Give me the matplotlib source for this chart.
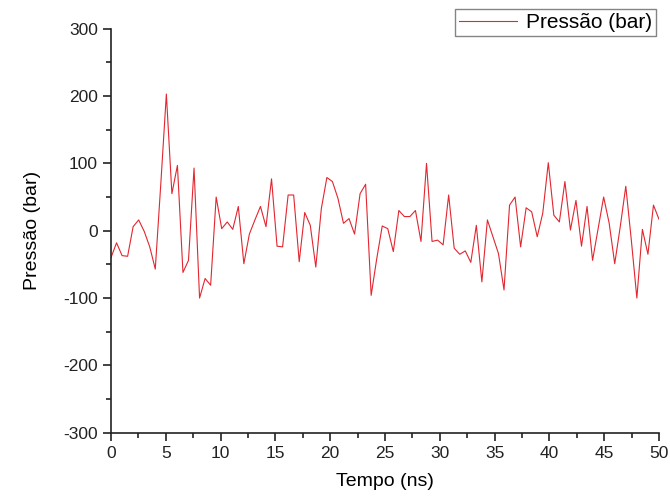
import matplotlib.pyplot as plt
import numpy as np
from matplotlib.ticker import MultipleLocator

plt.rcParams['font.family'] = ['Liberation Sans', 'DejaVu Sans']
plt.rcParams['axes.unicode_minus'] = False

# tempo (ns): 100 amostras de 0 a 50
tempo = np.linspace(0, 50, 100)
pressao = [-40, -18, -37, -38, 6, 16, -1, -24, -57, 70,
           203, 55, 97, -62, -44, 93, -100, -71, -81, 50,
           3, 13, 2, 36, -49, -5, 16, 36, 6, 77,
           -23, -24, 53, 53, -46, 27, 8, -54, 33, 79,
           73, 48, 11, 18, -5, 55, 69, -96, -42, 7,
           3, -31, 30, 21, 21, 30, -16, 100, -16, -14,
           -21, 53, -26, -35, -30, -47, 8, -76, 16, -9,
           -34, -88, 38, 50, -24, 34, 28, -9, 26, 101,
           23, 13, 73, 1, 45, -23, 36, -44, 3, 50,
           11, -49, 6, 66, -14, -100, 2, -35, 38, 17]

fig = plt.figure(figsize=(6.7, 4.99), dpi=100)
ax = fig.add_axes([111 / 670, 1 - 432.7 / 499, 548 / 670, (432.7 - 28.7) / 499])

ax.plot(tempo, pressao, color='#e3262f', lw=0.8, label='Pressão (bar)')

ax.set_xlim(0, 50)
ax.set_ylim(-300, 300)
ax.xaxis.set_major_locator(MultipleLocator(5))
ax.xaxis.set_minor_locator(MultipleLocator(2.5))
ax.yaxis.set_major_locator(MultipleLocator(100))
ax.yaxis.set_minor_locator(MultipleLocator(50))

for side in ['top', 'right']:
    ax.spines[side].set_visible(False)
for side in ['left', 'bottom']:
    ax.spines[side].set_linewidth(1.2)
    ax.spines[side].set_color('#222222')

ax.tick_params(which='major', direction='out', length=6, width=1.2, labelsize=12.5, colors='#222222')
ax.tick_params(which='minor', direction='out', length=3.5, width=1.2, colors='#222222')

ax.set_xlabel('Tempo (ns)', fontsize=14, labelpad=9)
ax.set_ylabel('Pressão (bar)', fontsize=14, labelpad=16)

leg = fig.legend(loc='upper right', bbox_to_anchor=(656 / 670, 1 - 9 / 499),
                 fontsize=15, frameon=True, fancybox=False, handlelength=2.8,
                 borderpad=0.2, handletextpad=0.4, borderaxespad=0)
leg.get_frame().set_edgecolor('#666666')
leg.get_frame().set_linewidth(1.0)

fig.savefig('out.png', dpi=100)
